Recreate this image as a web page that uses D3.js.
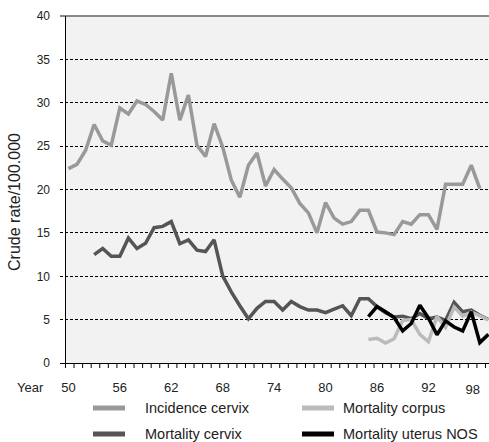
<!DOCTYPE html>
<html><head><meta charset="utf-8">
<script src="https://cdn.jsdelivr.net/npm/d3@7/dist/d3.min.js"></script>
<style>body{margin:0;background:#fff}svg{display:block;font-family:"Liberation Sans",Arial,sans-serif}</style>
</head><body><svg id="c" width="489" height="442"></svg>
<script>
const incidenceYears = d3.range(50, 99);
const incidenceCervix = [22.4,22.9,24.5,27.5,25.6,25.1,29.4,28.7,30.2,29.8,29.0,28.0,33.4,28.0,30.9,25.1,23.8,27.6,24.9,21.1,19.1,22.8,24.2,20.4,22.3,21.2,20.2,18.4,17.3,15.0,18.5,16.7,16.0,16.3,17.6,17.6,15.1,15.0,14.8,16.3,16.0,17.1,17.1,15.4,20.6,20.6,20.6,22.8,20.1];
const mortCervixYears = d3.range(53, 100);
const mortalityCervix = [12.5,13.2,12.3,12.3,14.4,13.2,13.8,15.6,15.75,16.3,13.75,14.2,13.0,12.85,14.2,10.05,8.2,6.6,5.1,6.3,7.1,7.1,6.1,7.1,6.5,6.1,6.1,5.8,6.2,6.6,5.45,7.4,7.4,6.5,5.8,5.3,5.4,5.1,5.7,5.1,5.3,4.9,7.0,5.9,6.1,5.5,5.0];
const lateYears = d3.range(85, 100);
const mortalityCorpus = [2.7,2.85,2.3,2.8,4.9,5.0,3.3,2.45,5.35,4.1,6.45,5.4,5.85,5.45,4.95];
const mortalityUterusNOS = [5.35,6.5,5.9,5.25,3.7,4.55,6.65,5.2,3.25,4.85,4.15,3.7,5.9,2.35,3.3];
const yTicks = [0,5,10,15,20,25,30,35,40];
const xLabels = [50,56,62,68,74,80,86,92,98];
const minorTicks = d3.range(49.6, 99, 1);

const series = [
  {name:"Incidence cervix", years:incidenceYears, values:incidenceCervix, color:"#999999"},
  {name:"Mortality cervix", years:mortCervixYears, values:mortalityCervix, color:"#555555"},
  {name:"Mortality corpus", years:lateYears, values:mortalityCorpus, color:"#bbbbbb"},
  {name:"Mortality uterus NOS", years:lateYears, values:mortalityUterusNOS, color:"#000000"}
];

const svg = d3.select("#c");
const L = 65, R = 489, T = 16, B = 363;
const x = d3.scaleLinear().domain([50, 99]).range([68.4, 488.4]);
const y = d3.scaleLinear().domain([0, 40]).range([B, T]);

svg.append("rect").attr("x", L).attr("y", T).attr("width", R - L).attr("height", B - T).attr("fill", "#f2f2f2");

// gridlines
svg.append("g").selectAll("line").data(yTicks.filter(d => d > 0 && d < 40)).join("line")
  .attr("x1", L - 5).attr("x2", R).attr("y1", d => y(d)).attr("y2", d => y(d))
  .attr("stroke", "#000").attr("stroke-width", 1).attr("stroke-dasharray", "3,2").attr("shape-rendering","crispEdges");
// top line
svg.append("line").attr("x1", L - 5).attr("x2", R).attr("y1", y(40)).attr("y2", y(40))
  .attr("stroke", "#888").attr("stroke-width", 2);

// y axis
svg.append("line").attr("x1", L).attr("x2", L).attr("y1", T).attr("y2", B).attr("stroke", "#000").attr("shape-rendering","crispEdges");
svg.append("line").attr("x1", L - 5).attr("x2", L).attr("y1", B).attr("y2", B).attr("stroke", "#000").attr("shape-rendering","crispEdges");
svg.append("g").selectAll("text").data(yTicks).join("text")
  .attr("x", 50).attr("y", d => y(d)).attr("dy", "0.36em").attr("text-anchor", "end")
  .attr("font-size", 12).attr("fill", "#222").text(d => d);

// x axis
const xAxis = d3.axisBottom(x).tickValues(minorTicks).tickSize(5).tickFormat("");
const gx = svg.append("g").attr("transform", `translate(0,${B})`).call(xAxis);
gx.select(".domain").attr("d", `M${L},0.5H${R}`).attr("stroke", "#000");
gx.selectAll(".tick line").attr("stroke", "#000");

svg.append("g").selectAll("text").data(xLabels).join("text")
  .attr("x", d => x(d)).attr("y", 392).attr("text-anchor", "middle")
  .attr("dx", (d, i) => i === xLabels.length - 1 ? -7 : 0)
  .attr("dy", (d, i) => i === xLabels.length - 1 ? 2 : 0)
  .attr("font-size", 13).attr("fill", "#222").text(d => d);
svg.append("text").attr("x", 17).attr("y", 392).attr("font-size", 13).attr("fill", "#222").text("Year");

svg.append("text").attr("transform", "translate(20,202) rotate(-90)").attr("text-anchor", "middle")
  .attr("font-size", 16).attr("fill", "#222").text("Crude rate/100.000");

// lines
const line = d3.line().x(d => x(d[0])).y(d => y(d[1]));
svg.append("g").selectAll("path").data(series).join("path")
  .attr("d", s => line(s.years.map((yr, i) => [yr, s.values[i]])))
  .attr("fill", "none").attr("stroke", s => s.color).attr("stroke-width", 3.5)
  .attr("stroke-linejoin", "miter").attr("stroke-miterlimit", 2);

// legend
const legPos = [[93, 145, 408], [93, 145, 434], [302, 343, 408], [302, 343, 434]];
const lg = svg.append("g").selectAll("g").data(series).join("g");
lg.append("line").attr("x1", (d, i) => legPos[i][0]).attr("x2", (d, i) => legPos[i][0] + 32)
  .attr("y1", (d, i) => legPos[i][2]).attr("y2", (d, i) => legPos[i][2])
  .attr("stroke", d => d.color).attr("stroke-width", 5);
lg.append("text").attr("x", (d, i) => legPos[i][1]).attr("y", (d, i) => legPos[i][2]).attr("dy", "0.36em")
  .attr("font-size", 14.5).attr("fill", "#222").text(d => d.name);
</script></body></html>
